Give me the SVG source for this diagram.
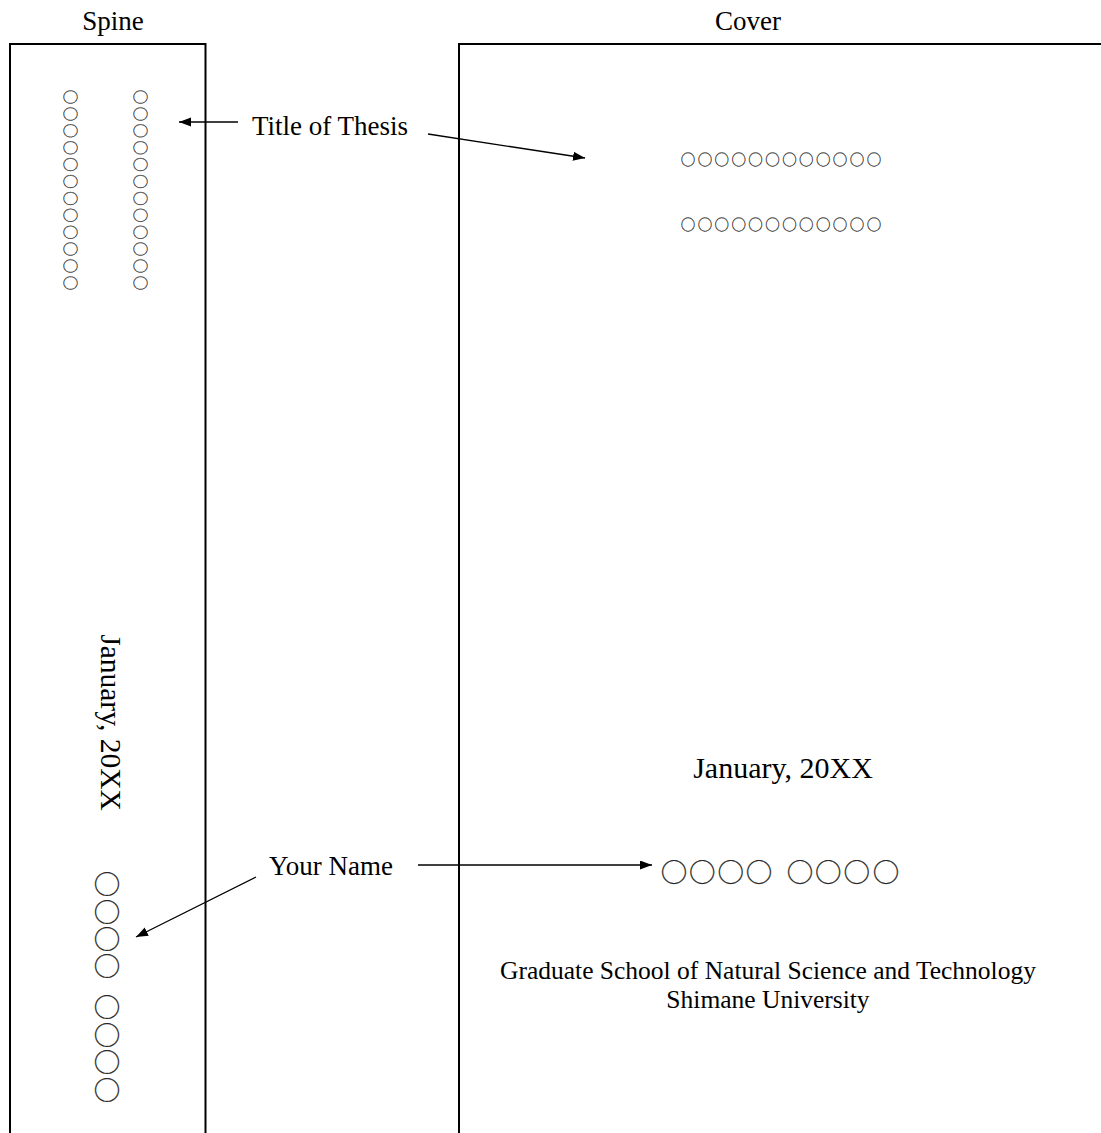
<svg xmlns="http://www.w3.org/2000/svg" width="1101" height="1133" viewBox="0 0 1101 1133">
<style>
.lbl{font-family:"Liberation Serif","Times New Roman",serif;fill:#000}
.c{font-family:"Noto Sans CJK JP","Noto Sans CJK SC",sans-serif;fill:#222;stroke:#333;stroke-width:0.25;text-anchor:middle;dominant-baseline:central}
.frame{fill:none;stroke:#000;stroke-width:2}
.conn{fill:none;stroke:#000;stroke-width:1.3}
</style>
<defs>
<marker id="ah" markerUnits="userSpaceOnUse" markerWidth="13" markerHeight="10" refX="12" refY="4.5" orient="auto">
<path d="M0,0 L12,4.5 L0,9 z" fill="#000"/>
</marker>
</defs>
<rect width="1101" height="1133" fill="#fff"/>

<g id="spine">
<text class="lbl" x="113" y="30" font-size="27" text-anchor="middle">Spine</text>
<path class="frame" d="M10,1140 V44 H205.5 V1140"/>
<g transform="translate(71,0) rotate(90)"><text class="c" font-size="14.5" x="97 113.9 130.8 147.7 164.6 181.5 198.4 215.3 232.2 249.1 266 282.9" y="0">○○○○○○○○○○○○</text></g>
<g transform="translate(141,0) rotate(90)"><text class="c" font-size="14.5" x="97 113.9 130.8 147.7 164.6 181.5 198.4 215.3 232.2 249.1 266 282.9" y="0">○○○○○○○○○○○○</text></g>
<text class="lbl" font-size="29.5" text-anchor="middle" transform="translate(101,722.5) rotate(90)">January, 20XX</text>
<g transform="translate(108,0) rotate(90)"><text class="c" font-size="26.5" x="884 912 939 966 986 1007 1035 1062 1090" y="0">○○○○ ○○○○</text></g>
</g>

<g id="cover">
<text class="lbl" x="748" y="30" font-size="27" text-anchor="middle">Cover</text>
<path class="frame" d="M459,1140 V44 H1110"/>
<text class="c" font-size="14.5" x="688 704.9 721.8 738.7 755.6 772.5 789.4 806.3 823.2 840.1 857 873.9" y="158">○○○○○○○○○○○○</text>
<text class="c" font-size="14.5" x="688 704.9 721.8 738.7 755.6 772.5 789.4 806.3 823.2 840.1 857 873.9" y="223">○○○○○○○○○○○○</text>
<text class="lbl" x="783" y="778" font-size="30" text-anchor="middle">January, 20XX</text>
<text class="c" font-size="26.5" x="674 702.3 730.7 759 779 800 828.3 856.7 886" y="870">○○○○ ○○○○</text>
<text class="lbl" x="768" y="979" font-size="25.5" text-anchor="middle">Graduate School of Natural Science and Technology</text>
<text class="lbl" x="768" y="1008" font-size="25.5" text-anchor="middle">Shimane University</text>
</g>

<g id="label-title">
<text class="lbl" x="252" y="135" font-size="27">Title of Thesis</text>
</g>
<g id="label-name">
<text class="lbl" x="269" y="875" font-size="27">Your Name</text>
</g>

<g id="connectors">
<line class="conn" x1="238" y1="122" x2="179" y2="122" marker-end="url(#ah)"/>
<line class="conn" x1="428" y1="134" x2="585" y2="158" marker-end="url(#ah)"/>
<line class="conn" x1="256" y1="877" x2="136" y2="937" marker-end="url(#ah)"/>
<line class="conn" x1="418" y1="865" x2="652" y2="865" marker-end="url(#ah)"/>
</g>
</svg>
